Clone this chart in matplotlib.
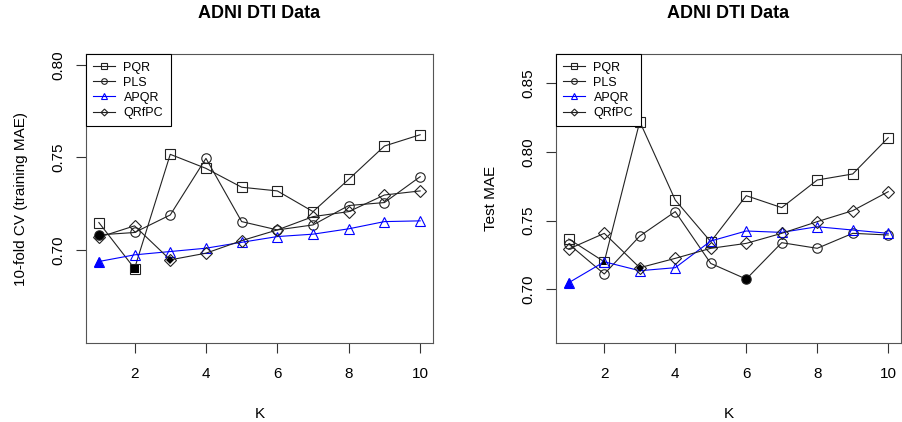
import matplotlib.pyplot as plt
import numpy as np

plt.rcParams['font.family'] = ['Liberation Sans', 'DejaVu Sans']

K = np.arange(1, 11)

# left panel: 10-fold CV (training MAE)
cv_pqr = [0.7148, 0.6899, 0.7517, 0.7441, 0.7339, 0.7319, 0.7207, 0.7382, 0.7562, 0.7623]
cv_pls = [0.7081, 0.7094, 0.7189, 0.7495, 0.7153, 0.7108, 0.7135, 0.7240, 0.7256, 0.7396]
cv_apqr = [0.6937, 0.6973, 0.6991, 0.7009, 0.7041, 0.7072, 0.7085, 0.7114, 0.7153, 0.7157]
cv_qrfpc = [0.7068, 0.7130, 0.6946, 0.6982, 0.7050, 0.7108, 0.7180, 0.7207, 0.7297, 0.7319]

# right panel: test MAE
test_pqr = [0.7367, 0.7201, 0.8221, 0.7650, 0.7347, 0.7682, 0.7595, 0.7796, 0.7840, 0.8104]
test_pls = [0.7330, 0.7112, 0.7388, 0.7566, 0.7189, 0.7075, 0.7340, 0.7299, 0.7408, 0.7396]
test_apqr = [0.7049, 0.7201, 0.7136, 0.7158, 0.7352, 0.7425, 0.7415, 0.7456, 0.7432, 0.7408]
test_qrfpc = [0.7294, 0.7408, 0.7158, 0.7226, 0.7299, 0.7335, 0.7408, 0.7493, 0.7573, 0.7711]

methods = ['PQR', 'PLS', 'APQR', 'QRfPC']
colors = ['#222222', '#222222', '#0000ff', '#222222']
open_marks = ['s', 'o', '^', 'D']
open_sizes = [6.8, 6.8, 7.2, 5.8]

LINE_KW = dict(linewidth=0.8)


def panel(ax, series, filled_marks, ylim, yticks, ylabel):
    for i, y in enumerate(series):
        ax.plot(K, y, color=colors[i], marker=open_marks[i], markersize=open_sizes[i],
                markerfacecolor='none', markeredgecolor=colors[i], markeredgewidth=0.8,
                label=methods[i], zorder=3, **LINE_KW)
    # best K for each method drawn filled
    for i, y in enumerate(series):
        j = int(np.argmin(y))
        if filled_marks[i] == 'D':
            ms = 4.2
        elif filled_marks[i] == '^' and i == 0:
            ms = 5.0
        else:
            ms = open_sizes[i] * 0.95
        ax.plot(K[j], y[j], linestyle='none', marker=filled_marks[i], markersize=ms,
                color='black' if i != 2 else colors[i], markeredgewidth=0, zorder=4)

    ax.set_xlim(0.64, 10.36)
    ax.set_ylim(*ylim)
    ax.set_xticks([2, 4, 6, 8, 10])
    ax.set_yticks(yticks)
    ax.set_yticklabels(['%.2f' % v for v in yticks])
    ax.tick_params(axis='both', direction='out', length=7, width=0.8, color='#333333')
    ax.tick_params(axis='x', labelsize=11, pad=10)
    ax.tick_params(axis='y', labelsize=11, pad=8, labelrotation=90)
    for lab in ax.get_yticklabels():
        lab.set_va('center')
    for s in ax.spines.values():
        s.set_color('#555555')
        s.set_linewidth(0.8)

    ax.set_title('ADNI DTI Data', fontsize=13, fontweight='bold', pad=26)
    ax.set_xlabel('K', fontsize=11, labelpad=19)
    ax.set_ylabel(ylabel, fontsize=11, labelpad=17)

    leg = ax.legend(loc='upper left', borderaxespad=0, fancybox=False, framealpha=1,
                    edgecolor='black', fontsize=9, handlelength=1.7, handletextpad=0.7,
                    labelspacing=0.25, borderpad=0.6, markerscale=0.6)
    leg.get_frame().set_linewidth(0.8)


fig = plt.figure(figsize=(9.03, 4.22), dpi=100)
ax1 = fig.add_axes([86 / 903, 1 - 343 / 422, (433 - 86) / 903, (343 - 54) / 422])
ax2 = fig.add_axes([556 / 903, 1 - 343 / 422, (901 - 556) / 903, (343 - 54) / 422])

panel(ax1, [cv_pqr, cv_pls, cv_apqr, cv_qrfpc], ['s', 'o', '^', 'D'],
      (0.6496, 0.806), [0.70, 0.75, 0.80], '10-fold CV (training MAE)')
panel(ax2, [test_pqr, test_pls, test_apqr, test_qrfpc], ['^', 'o', '^', 'D'],
      (0.661, 0.8713), [0.70, 0.75, 0.80, 0.85], 'Test MAE')

fig.savefig('out.png', dpi=100)
